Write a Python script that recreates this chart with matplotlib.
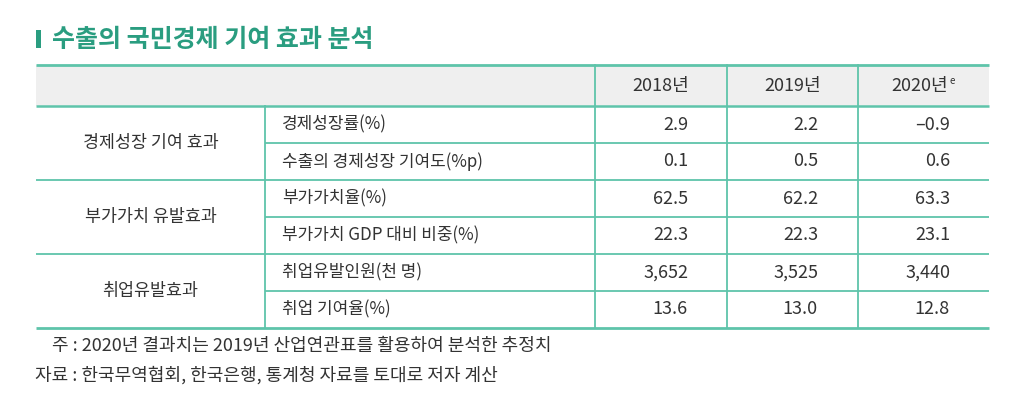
import matplotlib
matplotlib.use('Agg')
import matplotlib.pyplot as plt

plt.rcParams['font.family'] = ['Noto Sans CJK KR', 'DejaVu Sans']

# table content
title = '수출의 국민경제 기여 효과 분석'
years = ['2018년', '2019년', '2020년']
groups = ['경제성장 기여 효과', '부가가치 유발효과', '취업유발효과']
items = ['경제성장률(%)', '수출의 경제성장 기여도(%p)',
         '부가가치율(%)', '부가가치 GDP 대비 비중(%)',
         '취업유발인원(천 명)', '취업 기여율(%)']
values = [
    [2.9, 2.2, -0.9],
    [0.1, 0.5, 0.6],
    [62.5, 62.2, 63.3],
    [22.3, 22.3, 23.1],
    [3652, 3525, 3440],
    [13.6, 13.0, 12.8],
]
formats = ['{:.1f}', '{:.1f}', '{:.1f}', '{:.1f}', '{:,.0f}', '{:.1f}']
notes = ['주 : 2020년 결과치는 2019년 산업연관표를 활용하여 분석한 추정치',
         '자료 : 한국무역협회, 한국은행, 통계청 자료를 토대로 저자 계산']

green = '#2a9d80'
line_c = '#5ec4aa'
txt_c = '#333333'

W, H = 1024, 401
fig = plt.figure(figsize=(W / 100, H / 100), dpi=100)
ax = fig.add_axes([0, 0, 1, 1])
ax.set_xlim(0, W)
ax.set_ylim(H, 0)
ax.axis('off')

# layout (pixels)
x0, x1 = 36, 989
xdiv = 265
xcols = [595, 727, 858, 989]
y_top, y_head = 65, 106
row_h = 37

# title
ax.add_patch(plt.Rectangle((36, 30), 4.5, 18, color=green, lw=0))
ax.text(52, 40, title, fontsize=18, fontweight='bold', color=green, va='center', ha='left')

# header
ax.add_patch(plt.Rectangle((x0, y_top), x1 - x0, y_head - y_top, color='#efefef', lw=0))
for i, yr in enumerate(years):
    cx = (xcols[i] + xcols[i + 1]) / 2
    if i == 2:
        ax.text(cx - 4, (y_top + y_head) / 2 + 1, yr, fontsize=13, color=txt_c, ha='center', va='center')
        ax.text(cx + 26, (y_top + y_head) / 2 - 5, 'e', fontsize=7, color=txt_c, ha='left', va='center')
    else:
        ax.text(cx, (y_top + y_head) / 2 + 1, yr, fontsize=13, color=txt_c, ha='center', va='center')

n = len(items)
y_bot = y_head + n * row_h

# horizontal lines
ax.plot([x0, x1], [y_top, y_top], color=line_c, lw=2.0, solid_capstyle='butt')
ax.plot([x0, x1], [y_head, y_head], color=line_c, lw=1.8, solid_capstyle='butt')
ax.plot([x0, x1], [y_bot, y_bot], color=line_c, lw=2.0, solid_capstyle='butt')
for r in range(1, n):
    y = y_head + r * row_h
    xs = x0 if r % 2 == 0 else xdiv
    ax.plot([xs, x1], [y, y], color=line_c, lw=1.3, solid_capstyle='butt')

# vertical lines
ax.plot([xdiv, xdiv], [y_head, y_bot], color=line_c, lw=1.3)
for xc in xcols[:-1]:
    ax.plot([xc, xc], [y_top, y_bot], color=line_c, lw=1.3)

# group labels
for g, name in enumerate(groups):
    cy = y_head + (2 * g + 1) * row_h
    ax.text((x0 + xdiv) / 2, cy, name, fontsize=12.5, color=txt_c, ha='center', va='center')

# item labels and values
right_edges = [688, 818, 950]
for r, item in enumerate(items):
    cy = y_head + r * row_h + row_h / 2
    ax.text(282, cy, item, fontsize=12.2, color=txt_c, ha='left', va='center')
    for c, v in enumerate(values[r]):
        s = formats[r].format(v).replace('-', '\u2013')
        ax.text(right_edges[c], cy, s, fontsize=13, color=txt_c, ha='right', va='center')

# notes
ax.text(52, 346, notes[0], fontsize=13, color=txt_c, ha='left', va='center')
ax.text(35, 375, notes[1], fontsize=13, color=txt_c, ha='left', va='center')

fig.savefig('out.png', dpi=100)
